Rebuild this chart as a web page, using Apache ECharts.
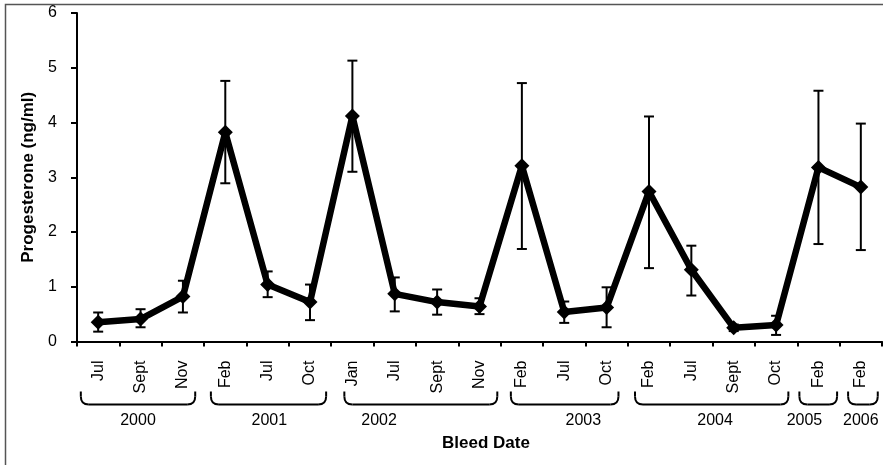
<!DOCTYPE html>
<html>
<head>
<meta charset="utf-8">
<script src="https://cdn.jsdelivr.net/npm/echarts@6/dist/echarts.min.js"></script>
<style>
html,body{margin:0;padding:0;background:#fff;}
#chart{width:883px;height:465px;}
</style>
</head>
<body>
<div id="chart"></div>
<script>
// ---- data ----
const months = ['Jul','Sept','Nov','Feb','Jul','Oct','Jan','Jul','Sept','Nov','Feb','Jul','Oct','Feb','Jul','Sept','Oct','Feb','Feb'];
const progesterone = [0.35,0.41,0.82,3.82,1.04,0.72,4.12,0.87,0.72,0.64,3.21,0.54,0.62,2.74,1.31,0.25,0.30,3.18,2.82];
const errLow  = [0.18,0.26,0.53,2.89,0.81,0.39,3.10,0.55,0.49,0.50,1.69,0.34,0.26,1.34,0.84,0.19,0.12,1.78,1.67];
const errHigh = [0.53,0.59,1.11,4.76,1.28,1.04,5.13,1.17,0.95,0.79,4.72,0.73,0.99,4.11,1.75,0.31,0.47,4.58,3.98];
const years = ['2000','2001','2002','2003','2004','2005','2006'];
const yearFirst = [0,3,6,10,13,17,18];
const yearLast  = [2,5,9,12,16,17,18];
const yTicks = [0,1,2,3,4,5,6];

// ---- layout (category units) ----
const bracketLeftInset  = [0.09,0.16,0.31,0.24,0.17,0.05,0.20];
const bracketRightInset = [0.21,0.12,0.08,0.22,0.21,0.06,0.10];
const yearLabelAt = [0.94,4.04,6.63,11.45,14.56,16.67,18.0];

const FONT = '"Liberation Sans", Arial, sans-serif';
const chart = echarts.init(document.getElementById('chart'));

const errData = errLow.map((lo, i) => [i, lo, errHigh[i]]);

chart.setOption({
  animation: false,
  grid: {left: 77, right: 1, top: 13, bottom: 123.5},
  xAxis: {
    type: 'category',
    data: months,
    boundaryGap: true,
    axisLine: {lineStyle: {color: '#000', width: 2}},
    axisTick: {show: true, length: 5, lineStyle: {color: '#000', width: 2}},
    axisLabel: {rotate: 90, margin: 19, color: '#000', fontSize: 16, fontFamily: FONT, interval: 0}
  },
  yAxis: {
    type: 'value',
    min: yTicks[0], max: yTicks[yTicks.length - 1], interval: 1,
    name: 'Progesterone (ng/ml)',
    nameLocation: 'middle',
    nameGap: 35,
    nameTextStyle: {fontSize: 17, fontWeight: 'bold', color: '#000', fontFamily: FONT},
    axisLine: {show: true, lineStyle: {color: '#000', width: 2}},
    axisTick: {show: true, length: 6, lineStyle: {color: '#000', width: 2}},
    axisLabel: {margin: 20, color: '#000', fontSize: 16, fontFamily: FONT},
    splitLine: {show: false}
  },
  series: [
    {
      type: 'line',
      data: progesterone,
      symbol: 'diamond',
      symbolSize: 15,
      lineStyle: {color: '#000', width: 6.5},
      itemStyle: {color: '#000'},
      z: 3
    },
    {
      type: 'custom',
      data: errData,
      z: 4,
      renderItem: function (params, api) {
        const i = api.value(0);
        const lo = api.coord([i, api.value(1)]);
        const hi = api.coord([i, api.value(2)]);
        const half = 5;
        const style = {stroke: '#000', lineWidth: 2};
        return {
          type: 'group',
          children: [
            {type: 'line', shape: {x1: lo[0], y1: lo[1], x2: hi[0], y2: hi[1]}, style: style},
            {type: 'line', shape: {x1: hi[0] - half, y1: hi[1], x2: hi[0] + half, y2: hi[1]}, style: style},
            {type: 'line', shape: {x1: lo[0] - half, y1: lo[1], x2: lo[0] + half, y2: lo[1]}, style: style}
          ]
        };
      }
    }
  ]
});

// ---- annotations: year brackets, year labels, x title, frame ----
const x0 = chart.convertToPixel({xAxisIndex: 0}, 0);
const step = chart.convertToPixel({xAxisIndex: 0}, 1) - x0;
const catX = c => x0 + c * step;
const axisY = chart.convertToPixel({yAxisIndex: 0}, 0);
const bTop = axisY + 50, bBot = axisY + 63, r = 8;

const graphics = [];
graphics.push({
  type: 'rect', shape: {x: 5.5, y: 4.5, width: 900, height: 500},
  style: {fill: null, stroke: '#555', lineWidth: 1.5}, silent: true
});
const bStyle = {fill: null, stroke: '#000', lineWidth: 2};
years.forEach((yr, k) => {
  const xl = catX(yearFirst[k] - 0.5 + bracketLeftInset[k]);
  const xr = catX(yearLast[k] + 0.5 - bracketRightInset[k]);
  graphics.push({type: 'line', shape: {x1: xl, y1: bTop, x2: xl, y2: bBot - r}, style: bStyle, silent: true});
  graphics.push({type: 'bezierCurve', shape: {x1: xl, y1: bBot - r, cpx1: xl, cpy1: bBot, x2: xl + r, y2: bBot}, style: bStyle, silent: true});
  graphics.push({type: 'line', shape: {x1: xl + r, y1: bBot, x2: xr - r, y2: bBot}, style: bStyle, silent: true});
  graphics.push({type: 'bezierCurve', shape: {x1: xr - r, y1: bBot, cpx1: xr, cpy1: bBot, x2: xr, y2: bBot - r}, style: bStyle, silent: true});
  graphics.push({type: 'line', shape: {x1: xr, y1: bBot - r, x2: xr, y2: bTop}, style: bStyle, silent: true});
  graphics.push({
    type: 'text', x: catX(yearLabelAt[k]), y: axisY + 79,
    style: {text: yr, fill: '#000', font: '16px ' + FONT, textAlign: 'center', textVerticalAlign: 'middle'}
  });
});
graphics.push({
  type: 'text', x: 486, y: axisY + 102,
  style: {text: 'Bleed Date', fill: '#000', font: 'bold 17px ' + FONT, textAlign: 'center', textVerticalAlign: 'middle'}
});
chart.setOption({graphic: graphics});
</script>
</body>
</html>
